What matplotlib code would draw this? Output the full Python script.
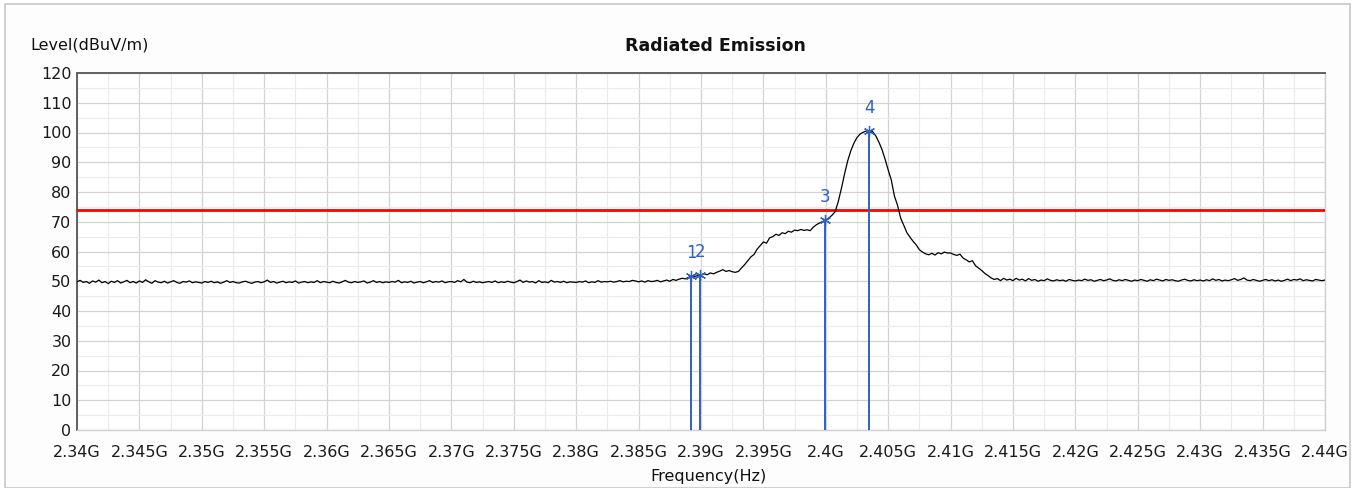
import numpy as np
import matplotlib
matplotlib.use("Agg")
import matplotlib.pyplot as plt
from matplotlib.patches import Rectangle
from matplotlib.ticker import MultipleLocator, FixedLocator

# ---------------- data ----------------
f_start, f_stop = 2.34, 2.44          # GHz
n_points = 401                         # sweep points
level_rows = [
    [49.8,50.3,49.6,49.9,49.3,50.1,49.7,50.4,49.5,49.9,49.2,50.0,49.6,50.2,49.4,49.8,50.3,49.5,49.9,49.4],
    [50.1,49.6,50.5,49.8,49.3,50.2,49.7,49.5,50.0,49.4,49.8,50.2,49.6,49.3,49.9,49.7,50.1,49.5,49.8,49.6],
    [49.4,49.9,49.6,50.0,49.5,49.8,49.3,49.7,50.2,49.6,49.9,49.5,49.4,49.8,50.0,49.6,49.3,49.7,49.9,49.5],
    [49.8,50.4,49.6,49.9,49.4,49.7,50.0,49.5,49.8,49.6,50.1,49.4,49.7,49.9,49.5,49.8,49.6,50.2,49.5,49.9],
    [49.7,49.5,50.0,49.6,49.4,49.8,50.3,49.7,49.5,49.9,49.6,49.8,50.1,49.4,49.7,50.2,49.6,49.9,49.5,49.8],
    [49.6,49.9,49.7,50.3,49.5,49.8,49.6,50.0,49.4,49.7,49.9,49.5,49.8,50.2,49.6,49.9,49.7,50.1,49.5,49.8],
    [49.9,49.6,50.2,49.8,50.6,49.7,49.5,50.0,49.6,49.8,49.5,49.7,49.9,49.6,50.1,49.5,49.8,49.6,50.0,49.7],
    [49.5,49.9,50.4,49.6,50.1,49.7,49.9,49.4,50.2,49.6,49.8,49.5,50.3,49.7,49.9,49.6,50.0,49.5,49.8,49.7],
    [49.6,49.9,49.7,50.1,49.5,49.8,49.6,50.2,49.7,49.9,49.8,50.0,49.7,49.9,50.2,49.8,50.0,49.9,50.3,50.1],
    [49.8,50.1,49.7,50.2,49.9,50.0,50.3,49.8,50.1,50.4,50.0,50.6,50.3,50.7,51.0,50.8,51.3,51.8,51.6,52.0],
    [52.1,52.5,52.2,52.8,52.5,53.0,53.4,53.9,53.3,53.6,53.2,53.0,53.3,54.5,55.6,56.9,58.2,59.0,60.8,62.0],
    [63.2,62.8,64.6,65.0,65.8,65.4,66.3,66.0,66.8,66.5,67.2,67.0,67.4,67.1,67.3,67.0,68.2,69.0,69.6,70.1],
    [70.6,71.3,72.2,73.4,76.8,81.2,86.0,90.4,93.8,96.4,98.3,99.5,100.1,100.5,100.6,100.3,98.9,96.8,94.3,91.0],
    [87.4,84.0,78.6,75.5,71.2,68.8,66.3,64.8,63.4,62.2,60.6,59.8,59.2,58.9,59.4,58.8,59.6,59.2,59.8,59.5],
    [59.5,59.0,58.7,59.1,57.8,57.2,56.5,56.9,55.2,54.4,53.6,52.6,51.9,51.1,50.6,50.9,50.2,51.0,50.4,50.7],
    [50.2,51.0,50.4,50.7,50.1,50.9,50.3,50.6,50.0,50.4,50.2,50.8,50.3,50.1,50.5,50.2,50.4,50.0,50.6,50.3],
    [50.1,50.4,50.2,50.7,50.3,50.5,50.0,50.3,50.6,50.2,50.4,50.8,50.3,50.1,50.5,50.2,50.6,50.3,50.0,50.4],
    [50.2,50.6,50.3,50.0,50.5,50.2,50.7,50.4,50.1,50.6,50.3,50.5,50.2,50.0,50.4,50.7,50.3,50.1,50.5,50.2],
    [50.4,50.1,50.5,50.2,50.8,50.3,50.6,50.1,50.4,50.2,50.5,50.9,50.3,50.6,51.1,50.4,50.2,50.6,50.3,50.0],
    [50.3,50.6,50.2,50.5,50.1,50.4,50.0,50.3,50.7,50.2,50.6,50.4,50.8,50.2,50.5,50.3,50.1,50.6,50.4,50.2],
    [50.4],
]
levels = [v for row in level_rows for v in row]
freqs = np.linspace(f_start, f_stop, n_points)

limit_level = 74.0

marker_labels = ["1", "2", "3", "4"]
marker_freqs = [2.3892, 2.3899, 2.3999, 2.4035]
marker_levels = [51.8, 52.2, 70.5, 100.6]

x_ticks = [2.34 + 0.005 * i for i in range(21)]
x_tick_labels = ["2.34G", "2.345G", "2.35G", "2.355G", "2.36G", "2.365G", "2.37G",
                 "2.375G", "2.38G", "2.385G", "2.39G", "2.395G", "2.4G", "2.405G",
                 "2.41G", "2.415G", "2.42G", "2.425G", "2.43G", "2.435G", "2.44G"]
y_ticks = list(range(0, 121, 10))

title = "Radiated Emission"
y_label = "Level(dBuV/m)"
x_label = "Frequency(Hz)"

# ---------------- figure ----------------
W, H = 1361, 488
fig = plt.figure(figsize=(W / 100, H / 100), dpi=100)
fig.patch.set_facecolor("white")
frame = Rectangle((5 / W, 0), 1345 / W, 1 - 4 / H, transform=fig.transFigure,
                  facecolor="#fdfdfd", edgecolor="#c8c8c8", lw=1.2, zorder=-10)
fig.add_artist(frame)

ax = fig.add_axes([77 / W, 1 - 430 / H, (1325 - 77) / W, (430 - 73) / H])
ax.set_zorder(1)
ax.set_facecolor("white")
ax.set_xlim(f_start, f_stop)
ax.set_ylim(0, 120)

ax.xaxis.set_major_locator(FixedLocator(x_ticks))
ax.set_xticklabels(x_tick_labels)
ax.xaxis.set_minor_locator(MultipleLocator(0.0025))
ax.yaxis.set_major_locator(FixedLocator(y_ticks))
ax.yaxis.set_minor_locator(MultipleLocator(5))
ax.grid(which="major", color="#d2d2d2", lw=0.9)
ax.grid(which="minor", color="#ebebeb", lw=0.8)
ax.set_axisbelow(True)
ax.tick_params(which="both", length=0, labelsize=11.5, colors="#1a1a1a")
ax.tick_params(axis="x", pad=11)
ax.tick_params(axis="y", pad=4)

for side in ["left", "top"]:
    ax.spines[side].set_color("#606060")
    ax.spines[side].set_linewidth(1.4)
for side in ["right", "bottom"]:
    ax.spines[side].set_color("#d0d0d0")
    ax.spines[side].set_linewidth(1.0)

# limit line
ax.axhline(limit_level, color="#ff0000", lw=2.0, zorder=3)

# trace
ax.plot(freqs, levels, color="black", lw=0.9, zorder=4)

# markers
blue = "#2f5fc8"
for lab, mf, ml in zip(marker_labels, marker_freqs, marker_levels):
    ax.vlines(mf, 0, ml, color=blue, lw=1.4, zorder=5)
    ax.plot([mf], [ml], marker=(6, 2, 0), ms=8, mec=blue, mew=0.9, zorder=6)
    ax.annotate(lab, (mf, ml), xytext=(0, 10), textcoords="offset points",
                ha="center", va="bottom", color=blue, fontsize=12)

fig.text(715 / W, 1 - 46 / H, title, ha="center", va="center",
         fontsize=12.5, fontweight="bold", color="#111111")
fig.text(30 / W, 1 - 45 / H, y_label, ha="left", va="center", fontsize=11.5, color="#111111")
fig.text(708 / W, 1 - 477 / H, x_label, ha="center", va="center", fontsize=11.5, color="#111111")

fig.savefig("out.png", dpi=100, facecolor=fig.get_facecolor())
